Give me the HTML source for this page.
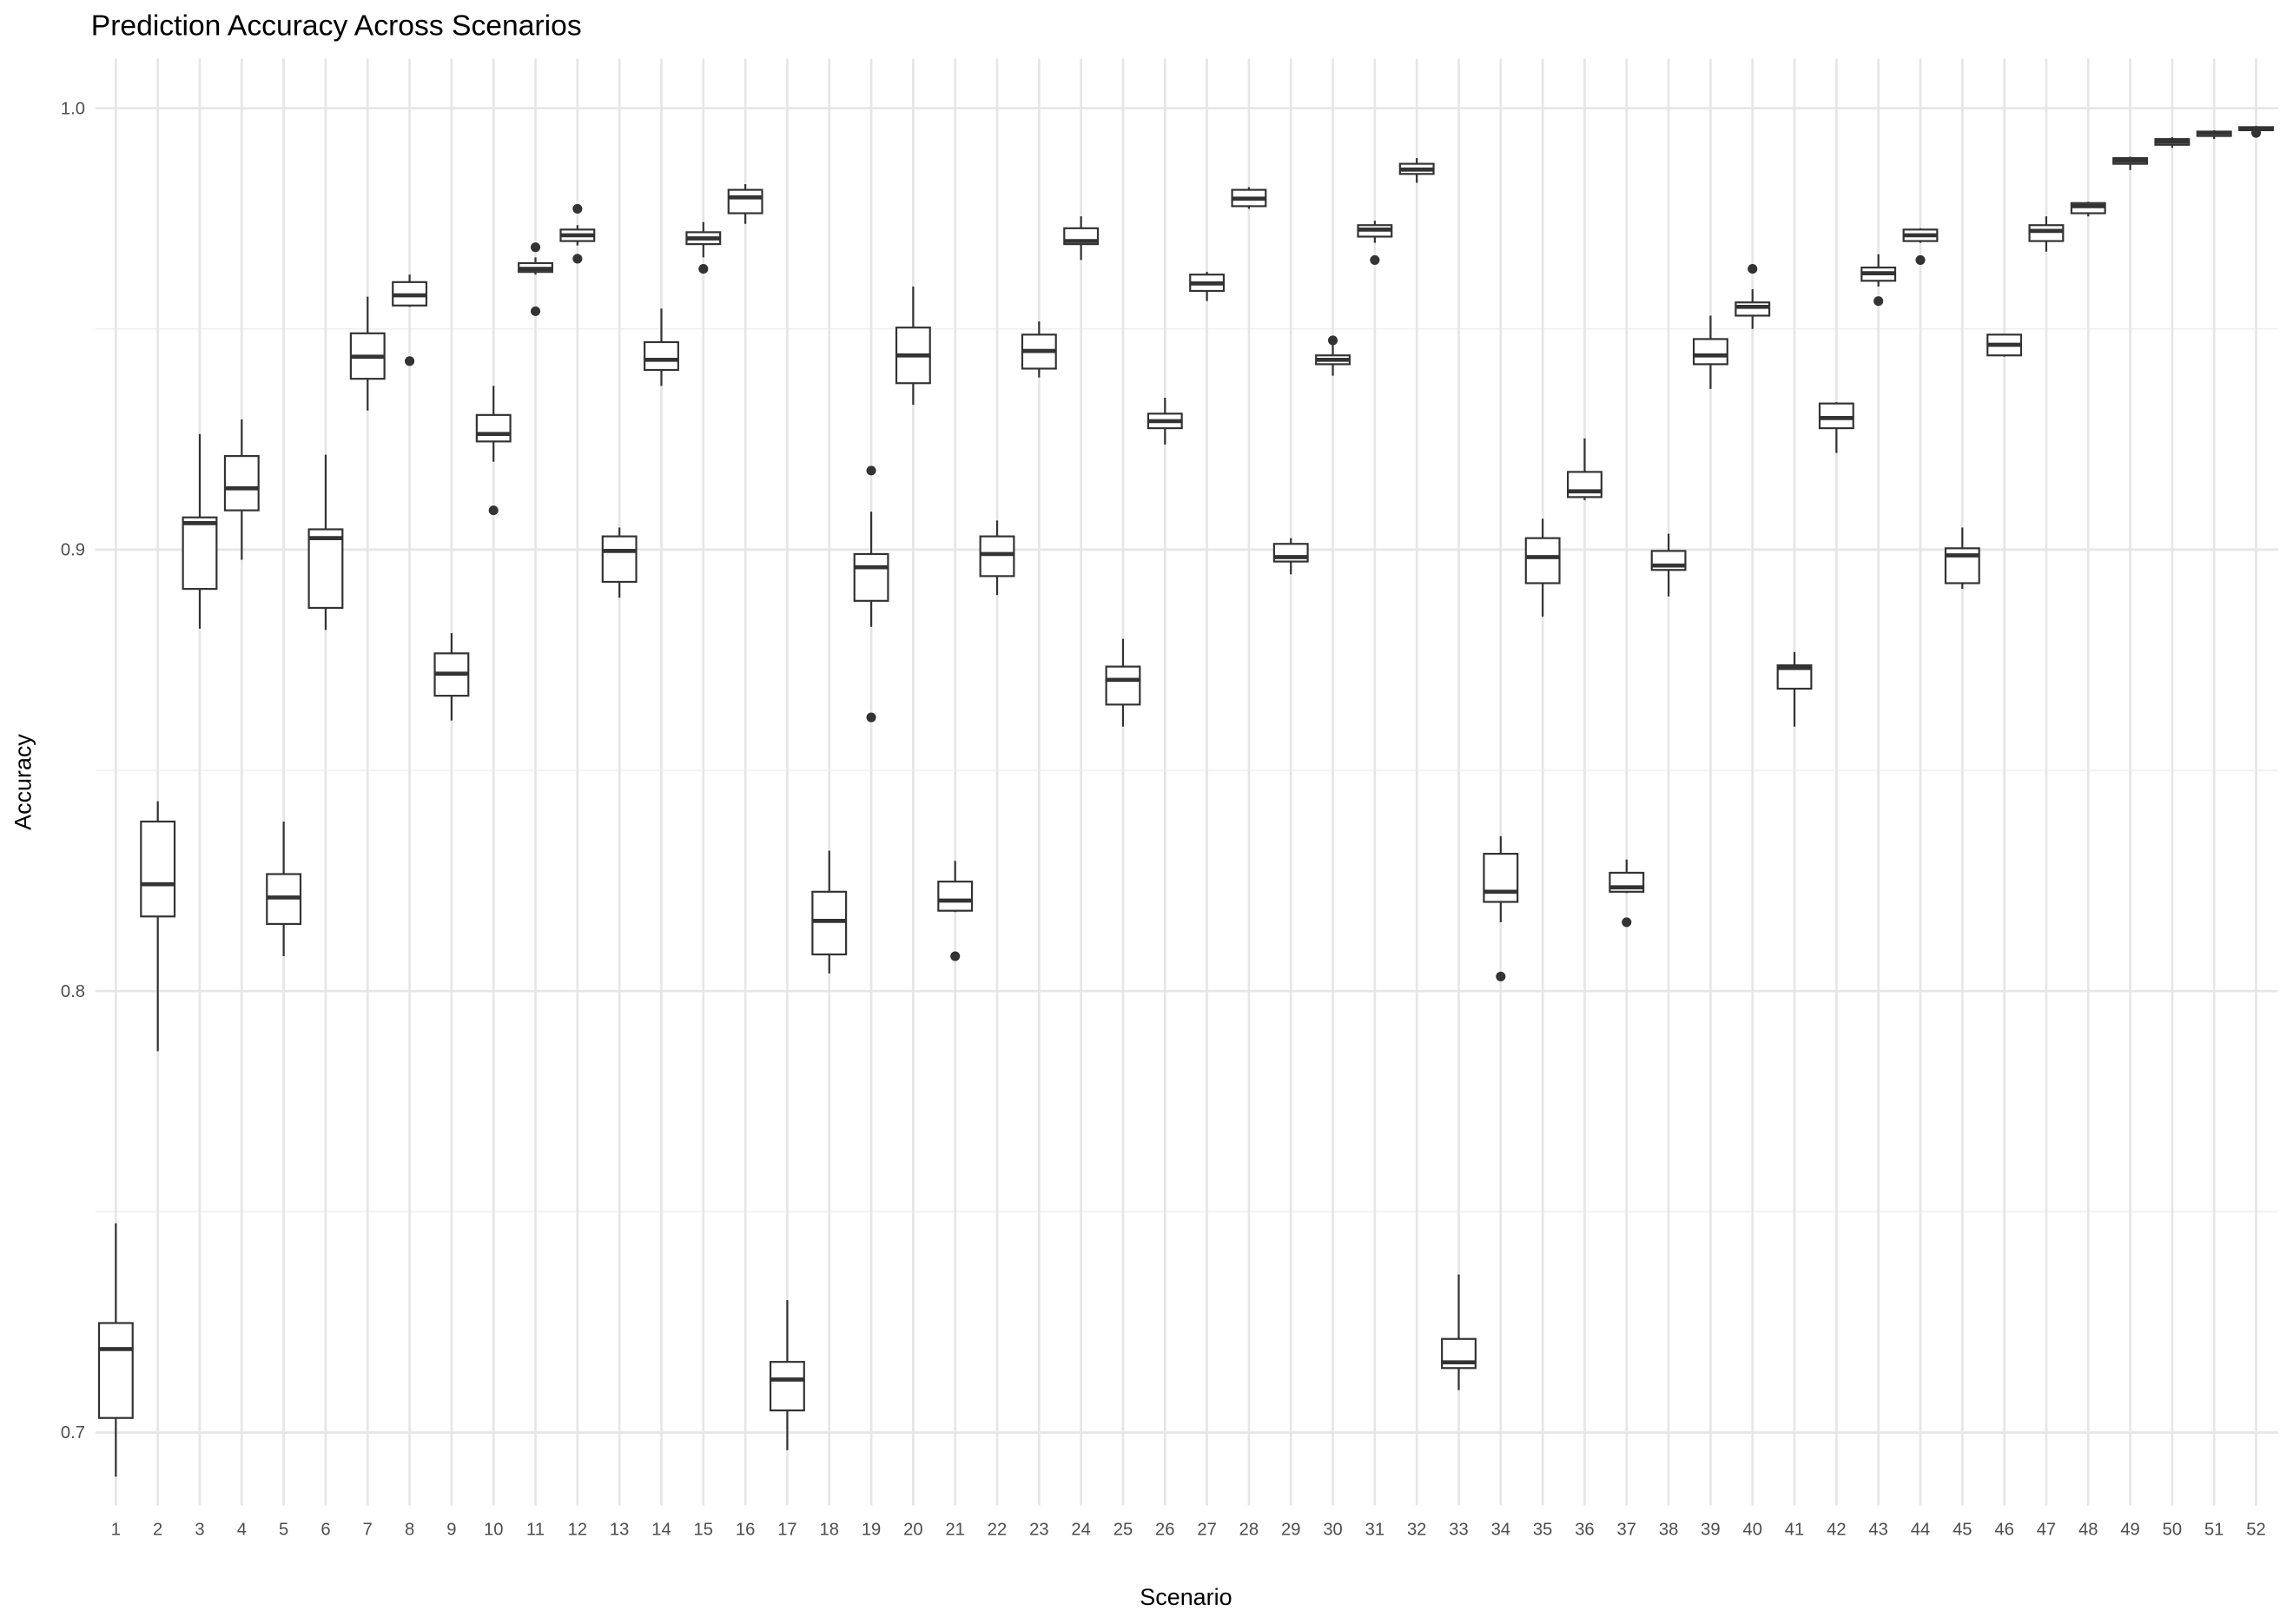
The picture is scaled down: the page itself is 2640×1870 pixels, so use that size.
<!DOCTYPE html>
<html><head><meta charset="utf-8"><style>
html,body{margin:0;padding:0;background:#fff}
svg{display:block;font-family:"Liberation Sans",sans-serif}
</style></head><body>
<svg id="chart" width="2640" height="1870" viewBox="0 0 1568 1111" xmlns="http://www.w3.org/2000/svg">
<text x="62" y="24" font-size="20" fill="#000">Prediction Accuracy Across Scenarios</text>
<text x="811" y="1098" font-size="16" text-anchor="middle" fill="#000">Scenario</text>
<text transform="translate(21,535) rotate(-90)" font-size="16" text-anchor="middle" fill="#000">Accuracy</text>
<g id="grid"></g><g id="boxes"></g><g id="ticks"></g>
</svg>
<script>
const scenarios = Array.from({length:52},(_,i)=>i+1);
const lowWhisker = [0.690,0.7864,0.8821,0.8977,0.8079,0.8818,0.9315,0.9550,0.8613,0.9199,0.9623,0.9689,0.8891,0.9371,0.9662,0.9738,0.696,0.804,0.8825,0.9328,0.8179,0.8897,0.939,0.9656,0.8599,0.9238,0.9563,0.9772,0.8944,0.9394,0.9695,0.9831,0.7096,0.8156,0.8848,0.9112,0.8222,0.8894,0.9364,0.950,0.8599,0.9219,0.9596,0.9695,0.8911,0.9437,0.9675,0.9755,0.986,0.991,0.993,0.9947];
const q1 = [0.7033,0.8169,0.8911,0.9089,0.8152,0.8868,0.9387,0.9553,0.8669,0.9245,0.9629,0.9699,0.8927,0.9407,0.9692,0.9762,0.705,0.8083,0.8884,0.9377,0.8182,0.894,0.941,0.9692,0.8649,0.9275,0.9586,0.9778,0.8973,0.942,0.9709,0.9851,0.7146,0.8202,0.8924,0.9119,0.8225,0.8954,0.942,0.953,0.8685,0.9275,0.9609,0.9699,0.8924,0.944,0.9699,0.9762,0.9874,0.9917,0.9937,0.995];
const medians = [0.7189,0.8242,0.906,0.9139,0.8212,0.9026,0.9437,0.9576,0.8719,0.9262,0.9636,0.9712,0.8997,0.943,0.9705,0.9798,0.712,0.8159,0.896,0.944,0.8205,0.899,0.945,0.9699,0.8705,0.9291,0.9603,0.9795,0.8983,0.943,0.9725,0.9861,0.7159,0.8225,0.8983,0.9132,0.8235,0.8964,0.944,0.955,0.8732,0.9298,0.9626,0.9712,0.8987,0.9464,0.9722,0.9778,0.9881,0.9924,0.9944,0.9954];
const q3 = [0.7248,0.8384,0.9073,0.9212,0.8265,0.9046,0.949,0.9606,0.8765,0.9305,0.9649,0.9725,0.903,0.947,0.9719,0.9815,0.716,0.8225,0.899,0.9503,0.8248,0.903,0.9487,0.9728,0.8735,0.9308,0.9623,0.9815,0.9013,0.944,0.9735,0.9874,0.7212,0.8311,0.9026,0.9176,0.8268,0.8997,0.9477,0.956,0.8738,0.9331,0.9639,0.9725,0.9003,0.9487,0.9735,0.9785,0.9887,0.993,0.9947,0.9957];
const highWhisker = [0.7474,0.843,0.9262,0.9295,0.8384,0.9215,0.9573,0.9623,0.8811,0.9371,0.9662,0.9735,0.905,0.9546,0.9742,0.9828,0.730,0.8318,0.9086,0.9596,0.8295,0.9066,0.9517,0.9755,0.8798,0.9344,0.9629,0.9821,0.9026,0.9464,0.9745,0.9887,0.7358,0.8351,0.907,0.9252,0.8298,0.9036,0.953,0.959,0.8768,0.9334,0.9669,0.9728,0.905,0.9487,0.9755,0.9788,0.989,0.9934,0.995,0.996];
const outlierScenario = [8,10,11,11,12,12,15,19,19,21,30,31,34,37,40,43,44,52];
const outlierValue = [0.9427,0.9089,0.954,0.9685,0.9659,0.9772,0.9636,0.9179,0.862,0.8079,0.9474,0.9656,0.8033,0.8156,0.9636,0.9563,0.9656,0.9944];
const yTicks = [0.7,0.8,0.9,1.0];
const yTickLabels = ["0.7","0.8","0.9","1.0"];
const yMinor = [0.75,0.85,0.95];

const NS="http://www.w3.org/2000/svg";
const X0=65,X1=1558,Y0=40,Y1=1030;
const xs=i=>79+(i-1)*(1464/51);
const ys=v=>74+(1-v)*3020;
function mk(tag,attrs,parent){const e=document.createElementNS(NS,tag);for(const k in attrs)e.setAttribute(k,attrs[k]);parent.appendChild(e);return e;}
const grid=document.getElementById('grid'),boxes=document.getElementById('boxes'),ticks=document.getElementById('ticks');
yMinor.forEach(v=>{const l=mk('line',{x1:X0,x2:X1,y1:ys(v),y2:ys(v),stroke:'#f0f0f0','stroke-width':1},grid);

});
yTicks.forEach((v,i)=>{const l=mk('line',{x1:X0,x2:X1,y1:ys(v),y2:ys(v),stroke:'#e6e6e6','stroke-width':1.6},grid);


const t=mk('text',{x:58,y:ys(v)+4,'font-size':12,'text-anchor':'end',fill:'#4d4d4d'},ticks);t.textContent=yTickLabels[i];

});
scenarios.forEach((s,i)=>{const x=xs(s);
const l=mk('line',{x1:x,x2:x,y1:Y0,y2:Y1,stroke:'#e6e6e6','stroke-width':1.6},grid);


const t=mk('text',{x:x,y:1050,'font-size':12,'text-anchor':'middle',fill:'#4d4d4d'},ticks);t.textContent=String(s);


const g=mk('g',{},boxes);


mk('line',{x1:x,x2:x,y1:ys(lowWhisker[i]),y2:ys(q1[i]),stroke:'#333','stroke-width':1.3},g);
mk('line',{x1:x,x2:x,y1:ys(q3[i]),y2:ys(highWhisker[i]),stroke:'#333','stroke-width':1.3},g);
mk('rect',{x:x-11.5,y:ys(q3[i]),width:23,height:Math.max(ys(q1[i])-ys(q3[i]),0.5),fill:'#fff',stroke:'#333','stroke-width':1.3},g);
mk('line',{x1:x-11.5,x2:x+11.5,y1:ys(medians[i]),y2:ys(medians[i]),stroke:'#333','stroke-width':2.8},g);});
outlierScenario.forEach((s,i)=>{const c=mk('circle',{cx:xs(s),cy:ys(outlierValue[i]),r:3.3,fill:'#333'},boxes);

});
</script>
</body></html>
